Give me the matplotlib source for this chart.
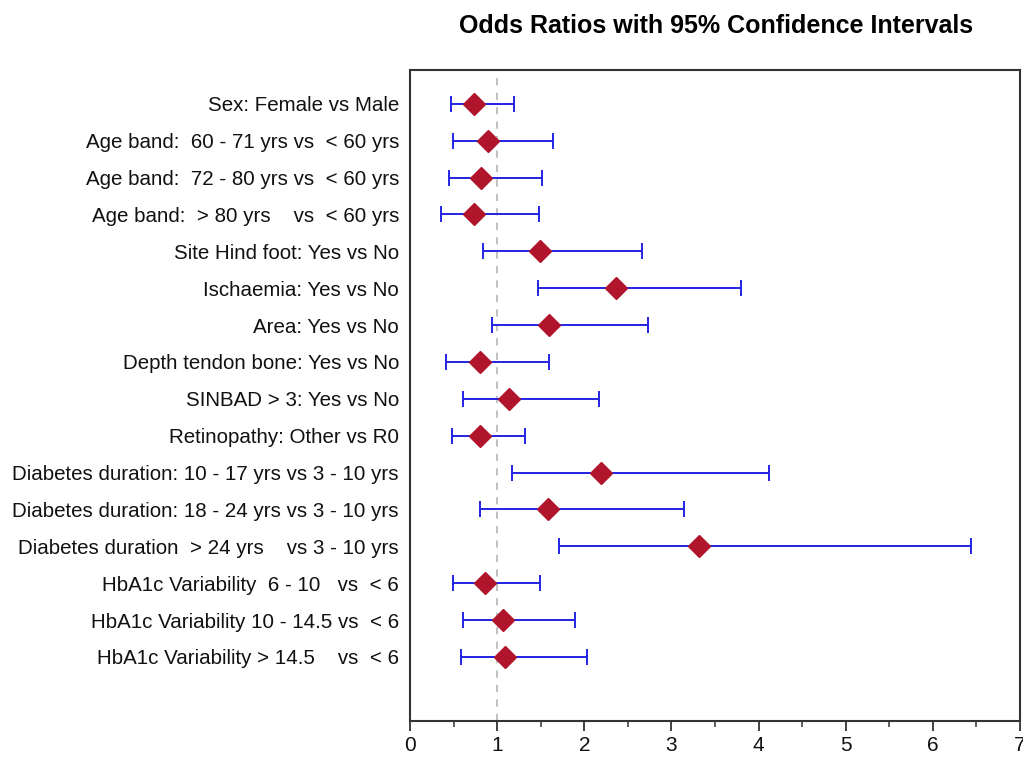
import numpy as np
import matplotlib
matplotlib.use("Agg")
import matplotlib.pyplot as plt

plt.rcParams['font.family'] = ['Liberation Sans', 'DejaVu Sans']

# odds ratios, top to bottom
labels = [
    "Sex: Female vs Male",
    "Age band:  60 - 71 yrs vs  < 60 yrs",
    "Age band:  72 - 80 yrs vs  < 60 yrs",
    "Age band:  > 80 yrs    vs  < 60 yrs",
    "Site Hind foot: Yes vs No",
    "Ischaemia: Yes vs No",
    "Area: Yes vs No",
    "Depth tendon bone: Yes vs No",
    "SINBAD > 3: Yes vs No",
    "Retinopathy: Other vs R0",
    "Diabetes duration: 10 - 17 yrs vs 3 - 10 yrs",
    "Diabetes duration: 18 - 24 yrs vs 3 - 10 yrs",
    "Diabetes duration  > 24 yrs    vs 3 - 10 yrs",
    "HbA1c Variability  6 - 10   vs  < 6",
    "HbA1c Variability 10 - 14.5 vs  < 6",
    "HbA1c Variability > 14.5    vs  < 6",
]
odds = [0.74, 0.90, 0.82, 0.74, 1.49, 2.36, 1.60, 0.80, 1.14, 0.80,
        2.19, 1.58, 3.32, 0.86, 1.07, 1.09]
lower = [0.47, 0.49, 0.45, 0.36, 0.84, 1.47, 0.94, 0.41, 0.61, 0.48,
         1.17, 0.80, 1.71, 0.49, 0.61, 0.59]
upper = [1.19, 1.64, 1.51, 1.48, 2.66, 3.80, 2.73, 1.60, 2.17, 1.32,
         4.12, 3.15, 6.44, 1.49, 1.89, 2.03]

odds = np.array(odds)
err = np.array([odds - np.array(lower), np.array(upper) - odds])
ypos = np.arange(1, len(labels) + 1)

fig = plt.figure(figsize=(10.23, 7.59), dpi=100)
ax = fig.add_axes([0.4008, 0.050, 0.5962, 0.858])

ax.axvline(1, color='#bbbbbb', linestyle=(0, (4, 4)), linewidth=1.3, zorder=1)
ax.errorbar(odds, ypos, xerr=err, fmt='none', ecolor='#2424e4', elinewidth=1.4,
            capsize=6, capthick=1.4, zorder=2)
ax.plot(odds, ypos, 'D', color='#b0152b', markersize=11, zorder=3)

ax.set_xlim(0, 7)
ax.set_ylim(17.74, 0.08)
ax.set_xticks(range(0, 8))
ax.set_xticks(np.arange(0.5, 7, 1), minor=True)
ax.set_yticks(ypos)
ax.set_yticklabels(labels, fontsize=14.8, color='#111111')
ax.tick_params(axis='x', labelsize=15, length=7, width=1.3, direction='out',
               color='#333333', labelcolor='#111111')
ax.tick_params(axis='x', which='minor', length=4, width=1.1, color='#333333')
ax.tick_params(axis='y', length=0, pad=8)
for s in ax.spines.values():
    s.set_linewidth(1.5)
    s.set_color('#333333')

fig.text(0.7, 0.966, "Odds Ratios with 95% Confidence Intervals",
         ha='center', va='center', fontsize=18, fontweight='bold')

fig.savefig("out.png", dpi=100)
